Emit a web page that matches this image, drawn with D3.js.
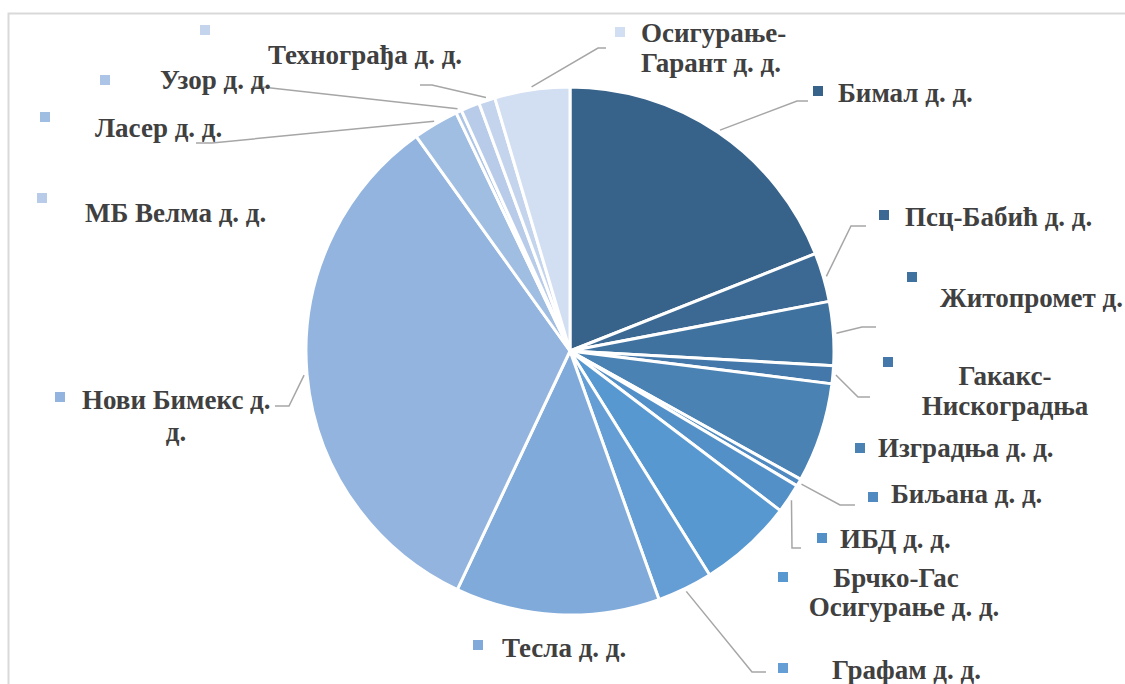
<!DOCTYPE html>
<html>
<head>
<meta charset="utf-8">
<script src="https://cdn.jsdelivr.net/npm/d3@7/dist/d3.min.js"></script>
<style>
  html, body { margin: 0; padding: 0; background: #fff; }
  svg { display: block; }
</style>
</head>
<body>
<svg id="chart" width="1125" height="684"></svg>
<script>
'use strict';

// companies in data order (clockwise from 12 o'clock)
var companies = ['Бимал д. д.', 'Псц-Бабић д. д.', 'Житопромет д. д.', 'Гакакс-Нискоградња',
  'Изградња д. д.', 'Биљана д. д.', 'ИБД д. д.', 'Брчко-Гас Осигурање д. д.', 'Графам д. д.',
  'Тесла д. д.', 'Нови Бимекс д. д.', 'Ласер д. д.', 'Узор д. д.', 'МБ Велма д. д.',
  'Технограђа д. д.', 'Осигурање-Гарант д. д.'];

// share of each company, %
var shares = [19.0, 3.0, 3.9, 1.1, 6.1, 0.45, 1.8, 5.8, 3.4, 12.5, 33.1, 2.8, 0.35, 1.15, 1.0, 4.6];

var colors = ['#37628a', '#3c6994', '#4072a0', '#4478aa', '#4a82b4', '#508ac0', '#5490c8', '#5898d0',
  '#649ed4', '#7faada', '#92b4de', '#a0bde2', '#acc4e6', '#b8ccea', '#c4d4ed', '#d2def1'];

// label boxes as placed on the chart: text lines, key marker, leader bend / end
var labelLayout = [
  {lines: [['Бимал д. д.', 838, 102, 'start']], key: [818, 91], leader: [[797, 101], [808, 101]]},
  {lines: [['Псц-Бабић д. д.', 905, 226, 'start']], key: [884, 215], leader: [[851, 226], [866, 226]]},
  {lines: [['Житопромет д.', 940, 307, 'start']], key: [912, 277], leader: [[862, 327], [876, 327]]},
  {lines: [['Гакакс-', 1005, 385, 'middle'], ['Нискоградња', 1005, 415, 'middle']], key: [888, 362], leader: [[858, 397], [870, 397]]},
  {lines: [['Изградња д. д.', 878, 457, 'start']], key: [860, 448]},
  {lines: [['Биљана д. д.', 891, 503, 'start']], key: [873, 497], leader: [[840, 505], [855, 505]]},
  {lines: [['ИБД д. д.', 840, 548, 'start']], key: [822, 538], leader: [[792, 548], [801, 548]]},
  {lines: [['Брчко-Гас', 896, 587, 'middle'], ['Осигурање д. д.', 904, 616, 'middle']], key: [783, 577]},
  {lines: [['Графам д. д.', 832, 679, 'start']], key: [783, 668], leader: [[752, 672], [766, 672]]},
  {lines: [['Тесла д. д.', 502, 657, 'start']], key: [478, 645]},
  {lines: [['Нови Бимекс д.', 82, 409, 'start'], ['д.', 176, 441, 'middle']], key: [60, 397], leader: [[289, 406], [275, 406]]},
  {lines: [['Ласер д. д.', 95, 137, 'start']], key: [45, 117], leader: [[212, 143], [196, 143]]},
  {lines: [['Узор д. д.', 160, 89, 'start']], key: [105, 80], leader: [[262, 87], [252, 87]]},
  {lines: [['МБ Велма д. д.', 85, 222, 'start']], key: [42, 198]},
  {lines: [['Технограђа д. д.', 268, 64, 'start']], key: [205, 30], leader: [[432, 85], [420, 85]]},
  {lines: [['Осигурање-', 641, 42, 'start'], ['Гарант д. д.', 641, 72, 'start']], key: [620, 32], leader: [[598, 48], [606, 48]]}
];

var width = 1125;
var height = 684;
var cx = 570;
var cy = 351;
var radius = 264;

var svg = d3.select('#chart');

// chart area frame (right and bottom edges fall outside the picture)
svg.append('rect')
  .attr('x', 8.5)
  .attr('y', 13.5)
  .attr('width', width + 20)
  .attr('height', height + 20)
  .attr('fill', 'none')
  .attr('stroke', '#d9d9d9')
  .attr('stroke-width', 2);

var pie = d3.pie()
  .sort(null)
  .value(function(d) {
    return d;
  });

var arcs = pie(shares);
var arc = d3.arc().innerRadius(0).outerRadius(radius);

var g = svg.append('g')
  .attr('transform', 'translate(' + cx + ',' + cy + ')');

g.selectAll('path')
  .data(arcs)
  .enter()
  .append('path')
  .attr('d', arc)
  .attr('fill', function(d, i) {
    return colors[i];
  })
  .attr('stroke', '#fff')
  .attr('stroke-width', 3)
  .attr('stroke-linejoin', 'round');

// leader lines start just outside the slice, at its middle angle
function leaderStart(d) {
  var a = (d.startAngle + d.endAngle) / 2;
  var r = radius + 3;
  return [cx + r * Math.sin(a), cy - r * Math.cos(a)];
}

var line = d3.line();

svg.selectAll('path.leader')
  .data(arcs.filter(function(d, i) {
    return labelLayout[i].leader;
  }))
  .enter()
  .append('path')
  .attr('class', 'leader')
  .attr('d', function(d) {
    var lay = labelLayout[d.index];
    return line([leaderStart(d)].concat(lay.leader));
  })
  .attr('fill', 'none')
  .attr('stroke', '#a6a6a6')
  .attr('stroke-width', 1.5);

var labels = svg.selectAll('g.label')
  .data(arcs)
  .enter()
  .append('g')
  .attr('class', 'label');

labels.append('rect')
  .attr('x', function(d) {
    return labelLayout[d.index].key[0] - 5;
  })
  .attr('y', function(d) {
    return labelLayout[d.index].key[1] - 5;
  })
  .attr('width', 10)
  .attr('height', 10)
  .attr('fill', function(d) {
    return colors[d.index];
  });

labels.each(function(d) {
  var sel = d3.select(this);
  labelLayout[d.index].lines.forEach(function(l) {
    sel.append('text')
      .attr('x', l[1])
      .attr('y', l[2])
      .attr('text-anchor', l[3])
      .style('font-family', '"Liberation Serif", "Times New Roman", serif')
      .style('font-weight', 'bold')
      .style('font-size', '27px')
      .style('fill', '#404040')
      .text(l[0]);
  });
});
</script>
</body>
</html>
